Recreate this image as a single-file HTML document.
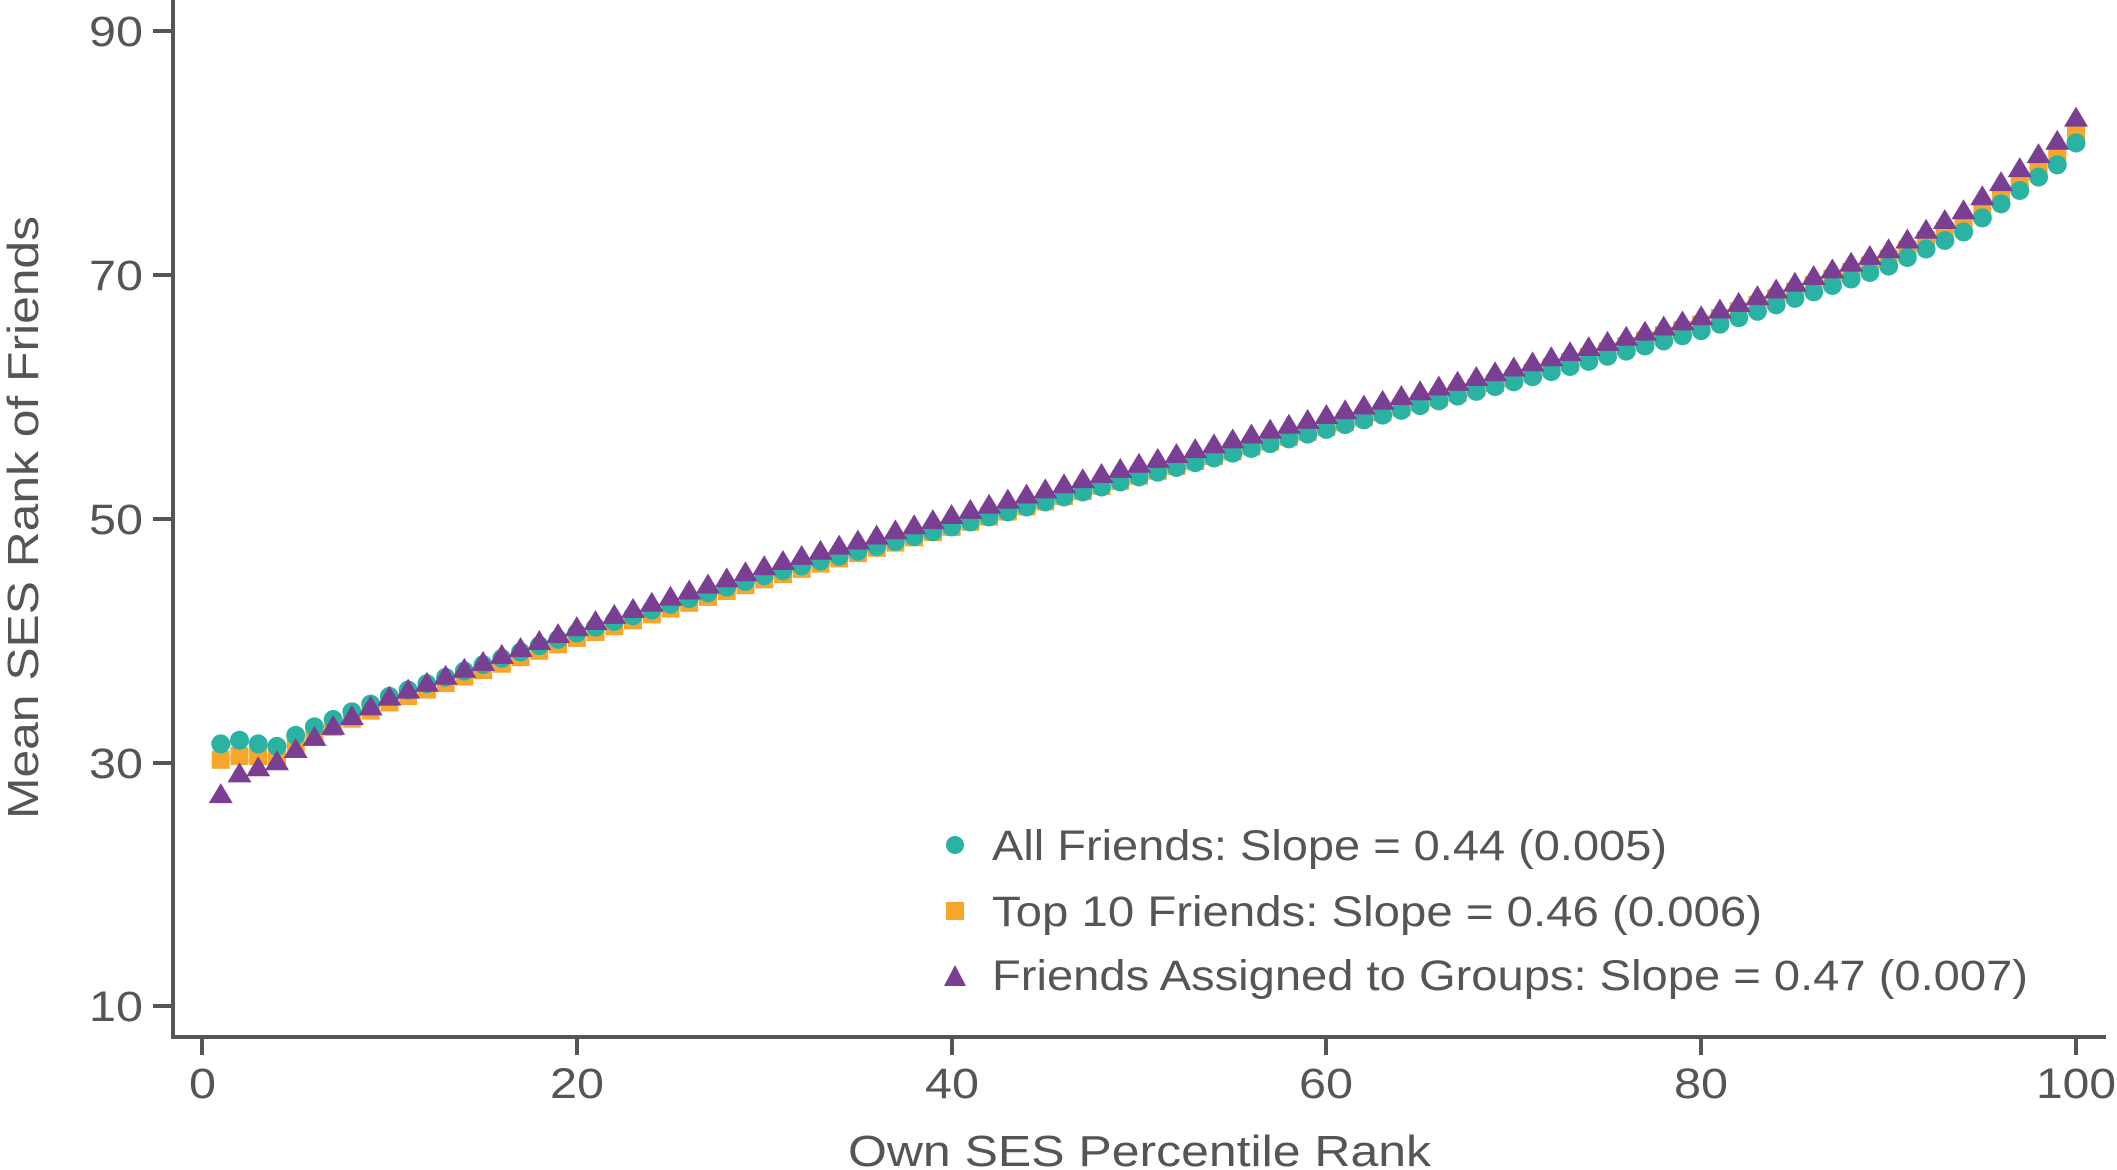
<!DOCTYPE html>
<html><head><meta charset="utf-8"><style>
html,body{margin:0;padding:0;background:#fff;}
svg{display:block;font-family:"Liberation Sans",sans-serif;}
</style></head><body>
<svg id="c" width="2117" height="1170" viewBox="0 0 2117 1170" xmlns="http://www.w3.org/2000/svg">
<g stroke="#555" stroke-width="4" fill="none">
<line x1="173" y1="0" x2="173" y2="1039"/>
<line x1="171" y1="1037" x2="2106" y2="1037"/>
<line x1="153" y1="31" x2="173" y2="31"/>
<line x1="153" y1="275" x2="173" y2="275"/>
<line x1="153" y1="519" x2="173" y2="519"/>
<line x1="153" y1="763" x2="173" y2="763"/>
<line x1="153" y1="1006" x2="173" y2="1006"/>
<line x1="202" y1="1037" x2="202" y2="1055"/>
<line x1="577" y1="1037" x2="577" y2="1055"/>
<line x1="952" y1="1037" x2="952" y2="1055"/>
<line x1="1326" y1="1037" x2="1326" y2="1055"/>
<line x1="1701" y1="1037" x2="1701" y2="1055"/>
<line x1="2076" y1="1037" x2="2076" y2="1055"/>
</g>
<g fill="#555" font-size="43">
<text x="89" y="46" textLength="54" lengthAdjust="spacingAndGlyphs">90</text>
<text x="89" y="290" textLength="54" lengthAdjust="spacingAndGlyphs">70</text>
<text x="89" y="534" textLength="54" lengthAdjust="spacingAndGlyphs">50</text>
<text x="89" y="778" textLength="54" lengthAdjust="spacingAndGlyphs">30</text>
<text x="89" y="1021" textLength="54" lengthAdjust="spacingAndGlyphs">10</text>
</g>
<g fill="#555" font-size="43">
<text x="189" y="1098" textLength="27" lengthAdjust="spacingAndGlyphs">0</text>
<text x="550" y="1098" textLength="54" lengthAdjust="spacingAndGlyphs">20</text>
<text x="925" y="1098" textLength="54" lengthAdjust="spacingAndGlyphs">40</text>
<text x="1299" y="1098" textLength="54" lengthAdjust="spacingAndGlyphs">60</text>
<text x="1674" y="1098" textLength="54" lengthAdjust="spacingAndGlyphs">80</text>
<text x="2036" y="1098" textLength="80" lengthAdjust="spacingAndGlyphs">100</text>
<text x="848" y="1166" font-size="44" textLength="583" lengthAdjust="spacingAndGlyphs">Own SES Percentile Rank</text>
<text transform="translate(38,819) rotate(-90)" font-size="44" textLength="603" lengthAdjust="spacingAndGlyphs">Mean SES Rank of Friends</text>
</g>
<g id="pts"></g>
<g fill="#555" font-size="43">
<circle cx="955" cy="845" r="9" fill="#2ab3a2"/>
<text x="992" y="860" textLength="675" lengthAdjust="spacingAndGlyphs">All Friends: Slope = 0.44 (0.005)</text>
<rect x="946" y="902" width="18" height="18" fill="#f7a52b"/>
<text x="992" y="926" textLength="770" lengthAdjust="spacingAndGlyphs">Top 10 Friends: Slope = 0.46 (0.006)</text>
<polygon points="944,986 966,986 955,965" fill="#7a3e93"/>
<text x="992" y="990" textLength="1036" lengthAdjust="spacingAndGlyphs">Friends Assigned to Groups: Slope = 0.47 (0.007)</text>
</g>
</svg>
<script>
function interp(a,p){for(var i=0;i<a.length-1;i++){if(p<=a[i+1][0]){var t=(p-a[i][0])/(a[i+1][0]-a[i][0]);return a[i][1]+t*(a[i+1][1]-a[i][1]);}}return a[a.length-1][1];}
var teal=[[1,31.5],[2,31.8],[3,31.5],[4,31.3],[5,32.2],[6,32.9],[7,33.5],[10,35.4],[20,40.6],[30,45.3],[40,49.3],[50,53.4],[60,57.3],[70,61.2],[80,65.4],[90,70.7],[94,73.5],[96,75.8],[98,78],[99,79],[100,80.8]];
var orng=[[1,30.2],[2,30.5],[3,30.5],[4,30.5],[5,31.3],[6,32.1],[7,32.9],[10,34.9],[20,40.2],[30,45.0],[40,49.3],[50,53.5],[60,57.5],[70,61.5],[80,65.9],[90,71.3],[94,74.3],[96,76.6],[98,78.8],[99,79.8],[100,81.8]];
var tri=[[1,27.3],[2,29],[3,29.5],[4,30],[5,31],[6,32],[7,32.9],[10,35.3],[20,41.0],[30,46.0],[40,50.2],[50,54.4],[60,58.4],[70,62.3],[80,66.5],[90,72.0],[94,75.2],[96,77.5],[98,79.8],[99,80.9],[100,82.8]];
function X(p){return 202+p*18.74;}function Y(v){return 1006-(v-10)*12.19;}
var s='';
for(var p=1;p<=100;p++){var x=X(p),y=Y(interp(orng,p));s+='<rect x="'+(x-9)+'" y="'+(y-9)+'" width="18" height="18" fill="#f7a52b"/>';}
for(var p=1;p<=100;p++){var x=X(p),y=Y(interp(teal,p));s+='<circle cx="'+x+'" cy="'+y+'" r="9.5" fill="#2ab3a2"/>';}
for(var p=1;p<=100;p++){var x=X(p),y=Y(interp(tri,p));s+='<polygon points="'+(x-12)+','+(y+8)+' '+(x+12)+','+(y+8)+' '+x+','+(y-12)+'" fill="#7a3e93"/>';}
document.getElementById('pts').innerHTML=s;
</script>
</body></html>
